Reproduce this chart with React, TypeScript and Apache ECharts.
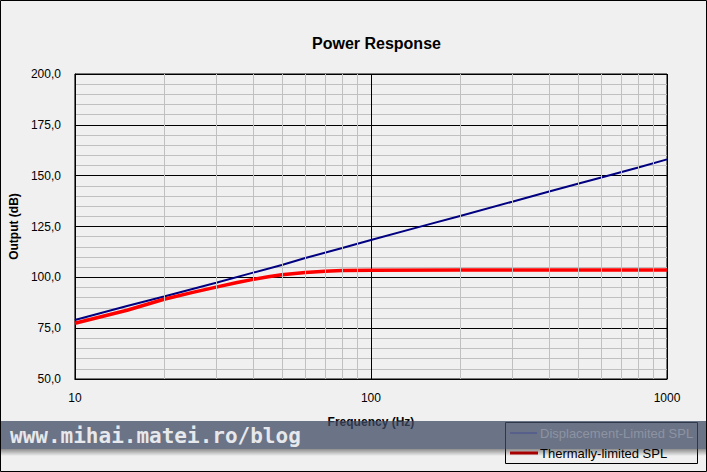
import React, { useEffect, useRef } from "react";
import * as echarts from "echarts";

const FREQ_DISP = [10, 15, 20, 30, 40, 50, 60, 80, 100, 150, 200, 300, 400, 500, 600, 800, 1000];
const SPL_DISP = [79.0, 85.9, 90.6, 97.3, 102.3, 106.1, 109.5, 114.4, 118.4, 125.3, 130.2, 137.2, 142.2, 146.0, 149.1, 154.0, 158.0];

const FREQ_THERM = [10, 15, 20, 25, 30, 35, 40, 45, 50, 60, 70, 80, 100, 200, 500, 1000];
const SPL_THERM = [77.4, 83.8, 89.2, 92.6, 95.2, 97.3, 99.0, 100.3, 101.3, 102.4, 103.0, 103.3, 103.5, 103.6, 103.6, 103.6];

const MINOR_FREQS = [20, 30, 40, 50, 60, 70, 80, 90, 200, 300, 400, 500, 600, 700, 800, 900];
const SERIES_NAMES = ["Displacement-Limited SPL", "Thermally-limited SPL"];
const TITLE = "Power Response";
const X_NAME = "Frequency (Hz)";
const Y_NAME = "Output (dB)";
const WATERMARK = "www.mihai.matei.ro/blog";

const FONT = "'Liberation Sans', Arial, sans-serif";

export default function App() {
  const ref = useRef<HTMLDivElement>(null);
  useEffect(() => {
    document.body.style.margin = "0";
    const chart = echarts.init(ref.current!, null, { renderer: "svg" });
    const option: any = {
      animation: false,
      backgroundColor: "#f0f0f0",
      textStyle: { fontFamily: FONT },
      title: {
        text: TITLE,
        left: 307,
        top: 30,
        textStyle: { fontSize: 16, fontWeight: "bold", color: "#000", fontFamily: FONT },
      },
      grid: {
        left: 71,
        top: 74,
        width: 596,
        height: 305,
        show: true,
        borderColor: "#000",
        borderWidth: 1,
        backgroundColor: "transparent",
      },
      xAxis: {
        type: "log",
        logBase: 10,
        min: 10,
        max: 1000,
        name: X_NAME,
        nameLocation: "middle",
        nameGap: 37,
        nameTextStyle: { fontSize: 12, fontWeight: "bold", color: "#000", fontFamily: FONT },
        axisLine: { show: true, lineStyle: { color: "#000" } },
        axisTick: { show: false },
        axisLabel: {
          fontSize: 12,
          color: "#000",
          margin: 13,
          fontFamily: FONT,
          formatter: (v: number) => String(Math.round(v)),
        },
        splitLine: { show: true, lineStyle: { color: "#000", width: 1 } },
      },
      yAxis: {
        type: "value",
        min: 50,
        max: 200,
        interval: 25,
        name: Y_NAME,
        nameLocation: "middle",
        nameGap: 47,
        nameTextStyle: { fontSize: 12, fontWeight: "bold", color: "#000", fontFamily: FONT },
        axisLine: { show: true, lineStyle: { color: "#000" } },
        axisTick: { show: false },
        minorTick: { show: false, splitNumber: 5 },
        minorSplitLine: { show: true, lineStyle: { color: "#c0c0c0", width: 1 } },
        axisLabel: {
          fontSize: 12,
          color: "#000",
          margin: 14,
          fontFamily: FONT,
          formatter: (v: number) => v.toFixed(1).replace(".", ","),
        },
        splitLine: { show: true, lineStyle: { color: "#000", width: 1 } },
      },
      series: [
        {
          type: "line",
          name: "minor",
          data: [],
          z: 1,
          silent: true,
          markLine: {
            silent: true,
            symbol: ["none", "none"],
            label: { show: false },
            lineStyle: { color: "#c0c0c0", width: 1, type: "solid" },
            data: MINOR_FREQS.map((f) => ({ xAxis: f })),
          },
        },
        {
          type: "line",
          name: SERIES_NAMES[0],
          data: FREQ_DISP.map((f, i) => [f, SPL_DISP[i]]),
          showSymbol: false,
          smooth: false,
          lineStyle: { color: "#000080", width: 2 },
          itemStyle: { color: "#000080" },
          z: 3,
        },
        {
          type: "line",
          name: SERIES_NAMES[1],
          data: FREQ_THERM.map((f, i) => [f, SPL_THERM[i]]),
          showSymbol: false,
          smooth: false,
          lineStyle: { color: "#ff0000", width: 3.5, join: "round" },
          itemStyle: { color: "#ff0000" },
          z: 4,
        },
      ],
      graphic: [
        {
          type: "rect",
          shape: { x: 0.5, y: 0.5, width: 706, height: 471 },
          style: { fill: "none", stroke: "#000", lineWidth: 1 },
          z: 100,
        },
        {
          type: "rect",
          shape: { x: 505.5, y: 422.5, width: 192, height: 41 },
          style: { fill: "none", stroke: "#000", lineWidth: 1 },
          z: 100,
        },
        {
          type: "rect",
          shape: { x: 1, y: 421, width: 705, height: 28 },
          style: { fill: "rgba(63,74,99,0.75)" },
          z: 110,
        },
        {
          type: "rect",
          shape: { x: 1, y: 449, width: 705, height: 7 },
          style: {
            fill: new echarts.graphic.LinearGradient(0, 0, 0, 1, [
              { offset: 0, color: "rgba(60,60,60,0.55)" },
              { offset: 1, color: "rgba(60,60,60,0)" },
            ]),
          },
          z: 110,
        },
        {
          type: "text",
          x: 10,
          y: 436,
          style: {
            text: WATERMARK,
            fill: "#e6e8ec",
            font: "bold 21px 'DejaVu Sans Mono', monospace",
            verticalAlign: "middle",
          },
          z: 120,
        },
        {
          type: "line",
          shape: { x1: 510, y1: 433, x2: 537, y2: 433 },
          style: { stroke: "#56608a", lineWidth: 2 },
          z: 120,
        },
        {
          type: "text",
          x: 540,
          y: 433,
          style: {
            text: SERIES_NAMES[0],
            fill: "#8d93a3",
            font: `13px ${FONT}`,
            verticalAlign: "middle",
          },
          z: 120,
        },
        {
          type: "line",
          shape: { x1: 510, y1: 453, x2: 538, y2: 453 },
          style: { stroke: "#a80000", lineWidth: 3 },
          z: 120,
        },
        {
          type: "text",
          x: 540,
          y: 453,
          style: {
            text: SERIES_NAMES[1],
            fill: "#000",
            font: `13px ${FONT}`,
            verticalAlign: "middle",
          },
          z: 120,
        },
      ],
    };
    chart.setOption(option);
    return () => chart.dispose();
  }, []);
  return <div ref={ref} style={{ width: 707, height: 472 }} />;
}
